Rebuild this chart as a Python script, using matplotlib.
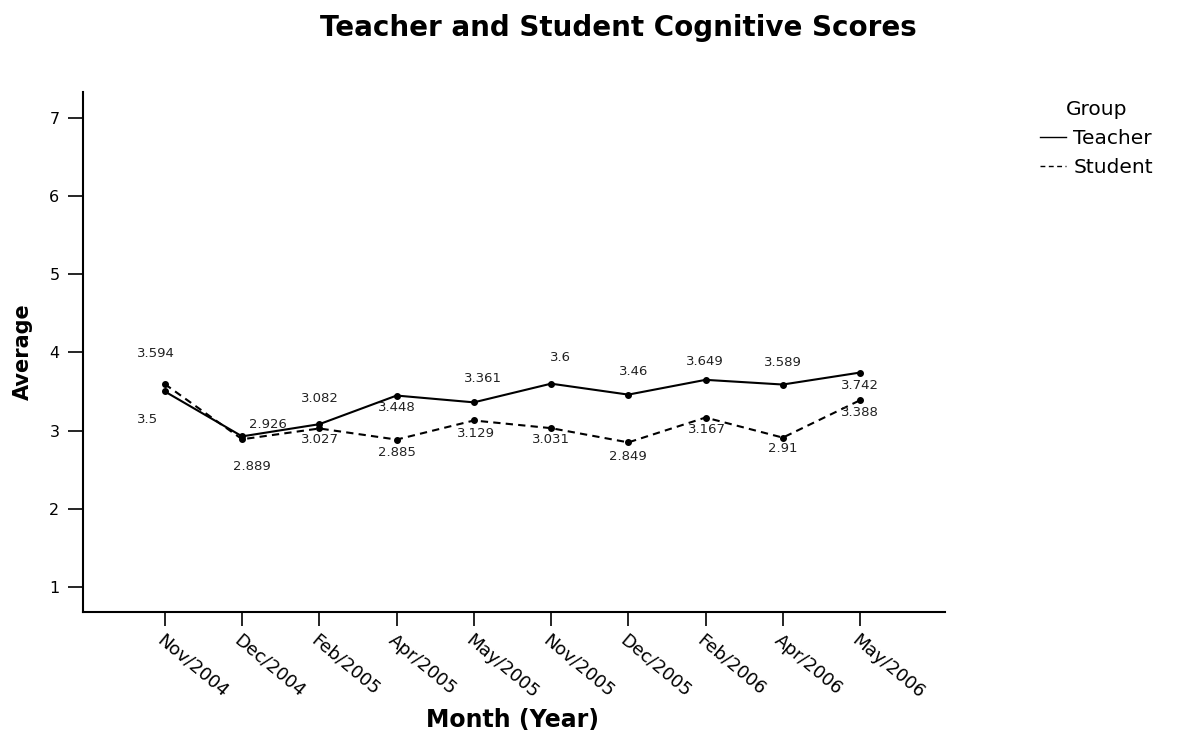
import matplotlib
matplotlib.use('Agg')
import matplotlib.pyplot as plt
import numpy as np

months = ['Nov/2004', 'Dec/2004', 'Feb/2005', 'Apr/2005', 'May/2005',
          'Nov/2005', 'Dec/2005', 'Feb/2006', 'Apr/2006', 'May/2006']
teacher = [3.5, 2.926, 3.082, 3.448, 3.361, 3.6, 3.46, 3.649, 3.589, 3.742]
student = [3.594, 2.889, 3.027, 2.885, 3.129, 3.031, 2.849, 3.167, 2.91, 3.388]

# label offsets in pixels (dx, dy up), as placed in the original
teacher_off = [(-17, -28), (26, 12), (1, 26), (0, -12), (9, 24),
               (9, 26), (5, 23), (-1, 18), (0, 22), (0, -13)]
student_off = [(-9, 31), (10, -27), (1, -11), (0, -13), (2, -13),
               (0, -11), (0, -14), (1, -12), (0, -11), (0, -12)]

plt.rcParams['font.family'] = 'DejaVu Sans'

fig = plt.figure(figsize=(11.78, 7.41), dpi=100)
ax = fig.add_axes([83/1178, 1-612/741, (945-83)/1178, (612-92)/741])

x = np.arange(len(months))
ax.plot(x, teacher, color='black', lw=1.5, marker='o', ms=4, label='Teacher')
ax.plot(x, student, color='black', lw=1.5, ls=(0, (3.5, 2.5)), marker='o', ms=4, label='Student')

for xi, v, (dx, dy) in zip(x, teacher, teacher_off):
    ax.annotate(f'{v:g}', (xi, v), xytext=(dx, dy), textcoords='offset pixels',
                ha='center', va='center', fontsize=9.5, color='#222222')
for xi, v, (dx, dy) in zip(x, student, student_off):
    ax.annotate(f'{v:g}', (xi, v), xytext=(dx, dy), textcoords='offset pixels',
                ha='center', va='center', fontsize=9.5, color='#222222')

ax.set_xlim(-1.06, 10.1)
ax.set_ylim(0.68, 7.33)
ax.set_yticks(range(1, 8))
ax.set_xticks(x)
ax.set_xticklabels(months, rotation=-40, ha='left', va='top', rotation_mode='anchor', fontsize=13)
ax.tick_params(axis='y', labelsize=11.5, length=11, width=1.2, pad=6)
ax.tick_params(axis='x', length=10, width=1.2, pad=4)
for s in ['top', 'right']:
    ax.spines[s].set_visible(False)
for s in ['left', 'bottom']:
    ax.spines[s].set_linewidth(1.5)

ax.set_ylabel('Average', fontsize=15, fontweight='bold', labelpad=12)
fig.text(512/1178, 1-720/741, 'Month (Year)', ha='center', va='center',
         fontsize=17, fontweight='bold')
fig.suptitle('Teacher and Student Cognitive Scores', x=618/1178, y=1-28/741,
             va='center', fontsize=20, fontweight='bold')

leg = fig.legend(loc='upper left', bbox_to_anchor=(1032/1178, 1-92/741), frameon=False,
                 title='Group', fontsize=14.5, title_fontsize=14.5, handlelength=1.3,
                 handletextpad=0.35, labelspacing=0.5, borderaxespad=0)
for h in leg.legend_handles:
    h.set_marker('')
    h.set_linewidth(1)

fig.savefig('out.png', dpi=100)
